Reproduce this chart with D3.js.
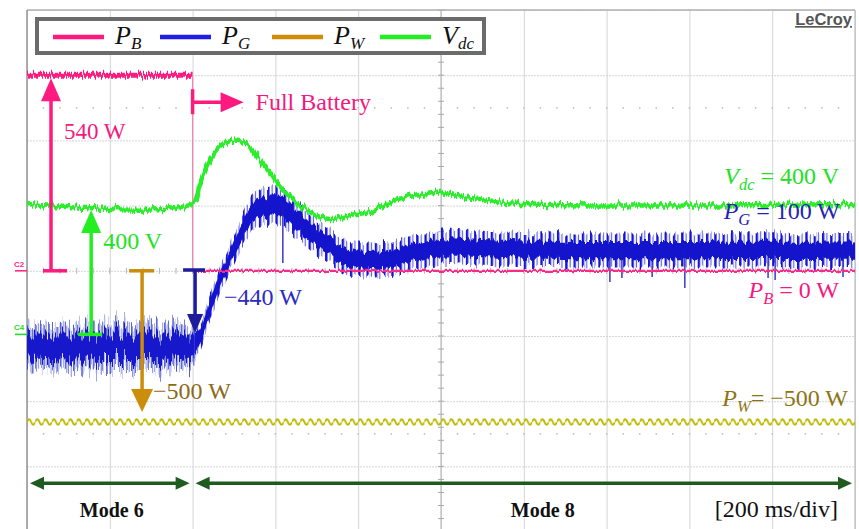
<!DOCTYPE html>
<html>
<head>
<meta charset="utf-8">
<script src="https://cdn.jsdelivr.net/npm/d3@7"></script>
<style>
  html, body { margin: 0; padding: 0; background: #fff; }
  svg { display: block; }
</style>
</head>
<body>
<svg id="scope" width="859" height="529"></svg>
<script>
// ---- time base: 200 ms/div, 10 divisions (ms) ----
const timeTicks  = d3.range(0, 2001, 200);
const modeNames  = ["Mode 6", "Mode 8"];
const modeBounds = [0, 400, 2000];
const timeBaseLabel = "[200 ms/div]";

// ---- P_B : battery power (W) ----
const pbTime  = [0, 400, 400, 2000];
const pbValue = [540, 540, 0, 0];

// ---- P_G : grid power (W), trace centre, core half-width and spike half-width ----
const pgTime   = [0, 380, 405, 418, 442, 466, 490, 514, 546, 580, 620, 652, 708, 756, 804, 853, 932, 1014, 1077, 1200, 2000];
const pgValue  = [-440, -440, -430, -384, -217, -67, 56, 184, 306, 340, 335, 267, 156, 84, 45, 45, 84, 117, 110, 100, 100];
const pgCore   = [70, 70, 60, 40, 40, 40, 40, 45, 50, 55, 55, 55, 50, 48, 48, 48, 48, 48, 48, 48, 48];
const pgSpread = [125, 125, 100, 75, 75, 75, 75, 85, 100, 105, 105, 100, 95, 95, 95, 95, 95, 95, 95, 95, 95];
// isolated downward spikes on P_G (time ms, tip value W)
const pgSpikeTime  = [618, 1408, 1437, 1510, 1589, 1790, 1807, 1971];
const pgSpikeValue = [28, -78, -56, -50, -111, -56, -67, -50];

// ---- P_W : wind power (W) with 50 Hz ripple ----
const pwTime  = [0, 2000];
const pwValue = [-500, -500];
const rippleHz = 50;

// ---- V_dc : dc-link voltage (V) ----
const vTime  = [0, 400, 418, 442, 466, 490, 514, 539, 563, 587, 611, 635, 659, 684, 708, 732, 756, 780, 829, 877, 925, 966, 998, 1039, 1077, 1191, 2000];
const vValue = [400, 402, 464, 535, 575, 593, 593, 575, 535, 495, 452, 423, 397, 376, 360, 354, 357, 366, 376, 406, 425, 434, 437, 425, 415, 400, 400];

// ---- legend ----
const legendKeys   = ["P", "P", "P", "V"];
const legendSubs   = ["B", "G", "W", "dc"];
const legendColors = ["#ff1a80", "#1f1fe6", "#d08c08", "#22ee22"];

// ================= drawing =================
const W = 859, H = 529;
const svg = d3.select("#scope");
const defs = svg.append("defs");
const serif = "'Liberation Serif', 'Times New Roman', serif";

const x = d3.scaleLinear().domain([0, 2000]).range([27, 855]);
const divPx = 65.2;
const yDiv = d3.scaleLinear().domain([-4, 4]).range([10 + 8 * divPx, 10]);

// per-channel vertical setting: units per division and offset (div)
function channel(perDiv, offsetDiv) {
  return d3.scaleLinear()
    .domain([(-4 - offsetDiv) * perDiv, (4 - offsetDiv) * perDiv])
    .range(yDiv.range());
}
const yPB = channel(180, 0);
const yPG = channel(363, 0.043);
const yPW = channel(215.6, 0);
const yV  = channel(200, -0.9755);

const minus = v => (v < 0 ? "\u2212" + Math.abs(v) : String(v));

// trace jitter: vertical-only displacement driven by turbulence
function jitter(id, fx, scale, seed) {
  const f = defs.append("filter").attr("id", id)
    .attr("filterUnits", "userSpaceOnUse")
    .attr("x", 0).attr("y", 0).attr("width", W).attr("height", H)
    .attr("color-interpolation-filters", "sRGB");
  f.append("feTurbulence").attr("type", "fractalNoise")
    .attr("baseFrequency", `${fx} 0.002`).attr("numOctaves", 2)
    .attr("seed", seed).attr("result", "noise");
  f.append("feColorMatrix").attr("in", "noise").attr("type", "matrix")
    .attr("values", "0 0 0 0 0.5  0 1 0 0 0  0 0 0 0 0  0 0 0 0 1")
    .attr("result", "shift");
  f.append("feDisplacementMap").attr("in", "SourceGraphic").attr("in2", "shift")
    .attr("scale", scale).attr("xChannelSelector", "R").attr("yChannelSelector", "G");
}
jitter("fuzzPB", 0.6, 12, 4);
jitter("fuzzV", 0.55, 10, 7);
jitter("fuzzThin", 0.5, 4, 9);
jitter("fuzzPG6", 0.45, 34, 2);
jitter("fuzzPG8", 0.3, 12, 5);

const ripplePx = x(1000 / rippleHz) - x(0);

// comb patterns for the P_G trace
const comb8 = defs.append("pattern").attr("id", "comb8")
  .attr("patternUnits", "userSpaceOnUse").attr("x", x(0)).attr("y", 0)
  .attr("width", ripplePx).attr("height", H);
comb8.append("rect").attr("x", 0).attr("width", 2.4).attr("height", H).attr("fill", "#1414d8");
comb8.append("rect").attr("x", 4.4).attr("width", 1.2).attr("height", H).attr("fill", "#2e2ee0").attr("opacity", 0.75);

const comb6 = defs.append("pattern").attr("id", "comb6")
  .attr("patternUnits", "userSpaceOnUse").attr("x", x(0)).attr("y", 0)
  .attr("width", ripplePx).attr("height", H);
[[0, 1.4, 0.9], [2.6, 1.0, 0.55], [4.6, 1.6, 0.85], [6.9, 0.8, 0.5]].forEach(([px, w, o]) =>
  comb6.append("rect").attr("x", px).attr("width", w).attr("height", H)
    .attr("fill", "#3341c8").attr("opacity", o));

// 50 Hz wave tile for P_W
const waveAmp = 2.8;
const wave = defs.append("pattern").attr("id", "pwWave")
  .attr("patternUnits", "userSpaceOnUse")
  .attr("x", x(0)).attr("y", yPW(pwValue[0]) - 6)
  .attr("width", ripplePx).attr("height", 12);
wave.append("path")
  .attr("d", `M0,6 Q${ripplePx / 4},${6 - 2 * waveAmp} ${ripplePx / 2},6 T${ripplePx},6`)
  .attr("fill", "none").attr("stroke", "#bfb800").attr("stroke-width", 2);

// ---- graticule ----
const grid = svg.append("g");
grid.append("g").attr("transform", `translate(0,${yDiv(4)})`)
  .call(d3.axisBottom(x).tickValues(timeTicks).tickSize(H).tickFormat(""))
  .call(g => g.select(".domain").remove())
  .call(g => g.selectAll("line").attr("stroke", "#d4d4d4").attr("stroke-width", 1));
grid.append("g").attr("transform", `translate(${x(0)},0)`)
  .call(d3.axisRight(yDiv).tickValues(d3.range(-4, 5)).tickSize(x(2000) - x(0)).tickFormat(""))
  .call(g => g.select(".domain").remove())
  .call(g => g.selectAll("line").attr("stroke", "#d4d4d4").attr("stroke-width", 1)
    .attr("stroke-dasharray", "2,1"));

// centre cross with minor ticks
const cx = x(1000), cy = yDiv(0);
grid.append("line").attr("x1", cx).attr("x2", cx).attr("y1", yDiv(4)).attr("y2", H)
  .attr("stroke", "#bdbdbd").attr("stroke-width", 1.2);
grid.selectAll(".vt").data(d3.range(-4, 4.01, 0.2)).join("line")
  .attr("x1", cx - 3).attr("x2", cx + 3).attr("y1", d => yDiv(d)).attr("y2", d => yDiv(d))
  .attr("stroke", "#a8a8a8");
grid.selectAll(".ht").data(d3.range(0, 2001, 40)).join("line")
  .attr("x1", d => x(d)).attr("x2", d => x(d)).attr("y1", cy - 3).attr("y2", cy + 3)
  .attr("stroke", "#b4b4b4");
// dotted rows at +/- 2.5 div
[2.5, -2.5].forEach(r => {
  grid.selectAll(null).data(d3.range(40, 2000, 40)).join("circle")
    .attr("cx", d => x(d)).attr("cy", yDiv(r)).attr("r", 0.9).attr("fill", "#bcbcbc");
});
// frame
grid.append("line").attr("x1", x(0)).attr("x2", x(2000)).attr("y1", yDiv(4)).attr("y2", yDiv(4))
  .attr("stroke", "#b0b0b0").attr("stroke-width", 1.5);
grid.append("line").attr("x1", x(0)).attr("x2", x(0)).attr("y1", yDiv(4)).attr("y2", H)
  .attr("stroke", "#9a9a9a").attr("stroke-width", 1.6);
grid.append("line").attr("x1", x(2000)).attr("x2", x(2000)).attr("y1", yDiv(4)).attr("y2", H)
  .attr("stroke", "#bdbdbd").attr("stroke-width", 1.2);

// channel ground markers
function marker(label, yy, color) {
  svg.append("line").attr("x1", 15).attr("x2", x(0)).attr("y1", yy).attr("y2", yy)
    .attr("stroke", color).attr("stroke-width", 1.6);
  svg.append("text").attr("x", 14).attr("y", yy - 4).text(label)
    .attr("font-family", "'Liberation Sans', Arial, sans-serif").attr("font-size", 8)
    .attr("font-weight", "bold").attr("fill", color);
}
marker("C2", yPB(0), "#ff2a88");
marker("C4", yV(0), "#22dd22");

// LeCroy badge
svg.append("text").attr("x", 852).attr("y", 25).text("LeCroy")
  .attr("text-anchor", "end").attr("font-family", "'Liberation Sans', Arial, sans-serif")
  .attr("font-size", 16.5).attr("font-weight", 600).attr("fill", "#555")
  .attr("text-decoration", "underline");

// ---- traces ----
const pts = (ts, vs) => ts.map((t, i) => ({ t, v: vs[i], i }));

// P_W
svg.append("rect")
  .attr("x", x(pwTime[0])).attr("width", x(pwTime[1]) - x(pwTime[0]))
  .attr("y", yPW(pwValue[0]) - 6).attr("height", 12)
  .attr("fill", "url(#pwWave)");

// P_G
const pg = pts(pgTime, pgValue);
const pgSplit = pgTime.indexOf(405);
const pgCurve = d3.curveCatmullRom.alpha(0.5);
const band = (half) => d3.area().curve(pgCurve)
  .x(d => x(d.t))
  .y0(d => yPG(d.v - half[d.i]))
  .y1(d => yPG(d.v + half[d.i]));
const pg6 = svg.append("g").attr("filter", "url(#fuzzPG6)");
pg6.append("path").datum(pg.slice(0, pgSplit + 1)).attr("d", band(pgSpread)).attr("fill", "url(#comb6)");
pg6.append("path").datum(pg.slice(0, pgSplit + 1)).attr("d", band(pgCore)).attr("fill", "#1717cc");
const pg8 = svg.append("g").attr("filter", "url(#fuzzPG8)");
pg8.append("path").datum(pg.slice(pgSplit)).attr("d", band(pgSpread)).attr("fill", "url(#comb8)");
pg8.append("path").datum(pg.slice(pgSplit)).attr("d", band(pgCore)).attr("fill", "#1414cc");
const pgMid = d3.scaleLinear().domain(pgTime).range(pgValue);
svg.selectAll(".spk").data(pgSpikeTime).join("line")
  .attr("x1", d => x(d)).attr("x2", d => x(d))
  .attr("y1", d => yPG(pgMid(d)))
  .attr("y2", (d, i) => yPG(pgSpikeValue[i]))
  .attr("stroke", "#1c1cb8").attr("stroke-width", 1.3);

// P_B
const pb = pts(pbTime, pbValue);
const pbLine = d3.line().x(d => x(d.t)).y(d => yPB(d.v));
svg.append("path").datum(pb.slice(0, 2)).attr("d", pbLine)
  .attr("fill", "none").attr("stroke", "#ff1a80").attr("stroke-width", 5).attr("filter", "url(#fuzzPB)");
svg.append("path").datum(pb.slice(1, 3)).attr("d", pbLine)
  .attr("fill", "none").attr("stroke", "#ef86b4").attr("stroke-width", 1.3);
svg.append("path").datum(pb.slice(2)).attr("d", pbLine)
  .attr("fill", "none").attr("stroke", "#ff2a88").attr("stroke-width", 2.2).attr("filter", "url(#fuzzThin)");

// V_dc
svg.append("path").datum(pts(vTime, vValue))
  .attr("d", d3.line().curve(d3.curveCatmullRom.alpha(0.5)).x(d => x(d.t)).y(d => yV(d.v)))
  .attr("fill", "none").attr("stroke", "#2aee2a").attr("stroke-width", 4.5)
  .attr("stroke-linejoin", "round").attr("filter", "url(#fuzzV)");

// ---- annotations ----
function arrow(xx, yTail, yTip, color, width, headLen, headHalf) {
  const dir = Math.sign(yTip - yTail);
  svg.append("line").attr("x1", xx).attr("x2", xx).attr("y1", yTail).attr("y2", yTip - dir * headLen * 0.6)
    .attr("stroke", color).attr("stroke-width", width);
  svg.append("path")
    .attr("d", `M${xx},${yTip} L${xx - headHalf},${yTip - dir * headLen} L${xx + headHalf},${yTip - dir * headLen} Z`)
    .attr("fill", color);
}
function bar(xx, yy, left, right, color) {
  svg.append("line").attr("x1", xx - left).attr("x2", xx + right).attr("y1", yy).attr("y2", yy)
    .attr("stroke", color).attr("stroke-width", 3.5);
}
function label(xx, yy, txt, color, size, anchor) {
  return svg.append("text").attr("x", xx).attr("y", yy).text(txt)
    .attr("font-family", serif).attr("font-size", size || 24).attr("fill", color)
    .attr("text-anchor", anchor || "start");
}

// 540 W step of P_B
const aB = x(58);
bar(aB, yPB(0), 8, 16, "#ff1a80");
arrow(aB, yPB(0), yPB(pbValue[0]) + 3, "#ff1a80", 3.5, 23, 10);
label(aB + 13, yPB(pbValue[0]) + 64, `${pbValue[0]} W`, "#f5187e", 23);

// 400 V level of V_dc
const aV = x(155);
bar(aV, yV(0), 13, 11, "#22ee22");
arrow(aV, yV(0), yV(vValue[0]) + 6, "#22ee22", 3.5, 23, 10);
label(aV + 12, yV(vValue[0]) + 45, `${vValue[0]} V`, "#1fe21f");

// -500 W level of P_W
const aW = x(278);
bar(aW, yPW(0), 13, 12, "#cc8c0c");
arrow(aW, yPW(0), yPW(pwValue[0]) - 10, "#cc8c0c", 3.5, 23, 11);
label(aW + 11, yPW(pwValue[0]) - 23, `${minus(pwValue[0])} W`, "#8c6a18");

// -440 W level of P_G
const aG = x(406);
bar(aG, yPG(0) + 2, 12, 10, "#1c1c9c");
arrow(aG, yPG(0) + 2, yPG(pgValue[0]) - 14, "#1c1c9c", 3.5, 19, 8);
label(aG + 29, yPG(0) + 37, `${minus(pgValue[0])} W`, "#2b2bbf");

// Full Battery marker
const fb = x(modeBounds[1]);
const fbY = yPB(pbValue[0]) + 27;
svg.append("line").attr("x1", fb).attr("x2", fb).attr("y1", fbY - 13).attr("y2", fbY + 12)
  .attr("stroke", "#ff1a80").attr("stroke-width", 3.5);
svg.append("line").attr("x1", fb).attr("x2", fb + 32).attr("y1", fbY).attr("y2", fbY)
  .attr("stroke", "#ff1a80").attr("stroke-width", 3.5);
svg.append("path").attr("d", `M${fb + 51},${fbY} L${fb + 28},${fbY - 10} L${fb + 28},${fbY + 10} Z`)
  .attr("fill", "#ff1a80");
label(fb + 63, fbY + 8, "Full Battery", "#f5187e");

// right-hand value labels
function subLabel(xx, yy, main, sub, rest, color) {
  const t = svg.append("text").attr("x", xx).attr("y", yy).attr("text-anchor", "end")
    .attr("font-family", serif).attr("font-size", 24).attr("fill", color);
  t.append("tspan").attr("font-style", "italic").text(main);
  t.append("tspan").attr("font-style", "italic").attr("font-size", 16.5).attr("dy", 6).text(sub);
  t.append("tspan").attr("dy", -6).text(rest);
}
subLabel(839, yV(vValue[vValue.length - 1]) - 20, "V", "dc", ` = ${vValue[vValue.length - 1]} V`, "#22e022");
subLabel(840, yPG(pgValue[pgValue.length - 1]) - 31, "P", "G", ` = ${pgValue[pgValue.length - 1]} W`, "#2424b4");
subLabel(839, yPB(pbValue[pbValue.length - 1]) + 27, "P", "B", ` = ${pbValue[pbValue.length - 1]} W`, "#f5187e");
subLabel(848, yPW(pwValue[pwValue.length - 1]) - 16, "P", "W", `= ${minus(pwValue[pwValue.length - 1])} W`, "#8c7414");

// ---- legend ----
const lg = svg.append("g");
lg.append("rect").attr("x", 37).attr("y", 19).attr("width", 447).attr("height", 34)
  .attr("fill", "#fff").attr("stroke", "#6b6b6b").attr("stroke-width", 4);
const legendX = [53, 160, 272, 380];
legendKeys.forEach((k, i) => {
  lg.append("line").attr("x1", legendX[i]).attr("x2", legendX[i] + 51).attr("y1", 37).attr("y2", 37)
    .attr("stroke", legendColors[i]).attr("stroke-width", 4.5);
  const t = lg.append("text").attr("x", legendX[i] + 62).attr("y", 44)
    .attr("font-family", serif).attr("font-size", 26).attr("font-style", "italic").attr("fill", "#111");
  t.append("tspan").text(k);
  t.append("tspan").attr("font-size", 17).attr("dy", 5).text(legendSubs[i]);
});

// ---- operating modes along the time axis ----
const modeY = yDiv(-3.26);
const modeColor = "#1f5a1f";
modeNames.forEach((name, i) => {
  const x0 = x(modeBounds[i]) + 3, x1 = x(modeBounds[i + 1]) - 3;
  svg.append("line").attr("x1", x0 + 8).attr("x2", x1 - 8).attr("y1", modeY).attr("y2", modeY)
    .attr("stroke", modeColor).attr("stroke-width", 3.5);
  svg.append("path").attr("d", `M${x0},${modeY} L${x0 + 14},${modeY - 6.5} L${x0 + 14},${modeY + 6.5} Z`).attr("fill", modeColor);
  svg.append("path").attr("d", `M${x1},${modeY} L${x1 - 14},${modeY - 6.5} L${x1 - 14},${modeY + 6.5} Z`).attr("fill", modeColor);
});
svg.append("text").attr("x", (x(modeBounds[0]) + x(modeBounds[1])) / 2 + 2).attr("y", modeY + 34)
  .attr("text-anchor", "middle").attr("font-family", serif).attr("font-size", 20)
  .attr("font-weight", "bold").attr("fill", "#111").text(modeNames[0]);
svg.append("text").attr("x", (x(modeBounds[1]) + x(modeBounds[2])) / 2 + 19).attr("y", modeY + 34)
  .attr("text-anchor", "middle").attr("font-family", serif).attr("font-size", 20)
  .attr("font-weight", "bold").attr("fill", "#111").text(modeNames[1]);
svg.append("text").attr("x", 838).attr("y", modeY + 34).attr("text-anchor", "end")
  .attr("font-family", serif).attr("font-size", 24).attr("fill", "#111").text(timeBaseLabel);
</script>
</body>
</html>
